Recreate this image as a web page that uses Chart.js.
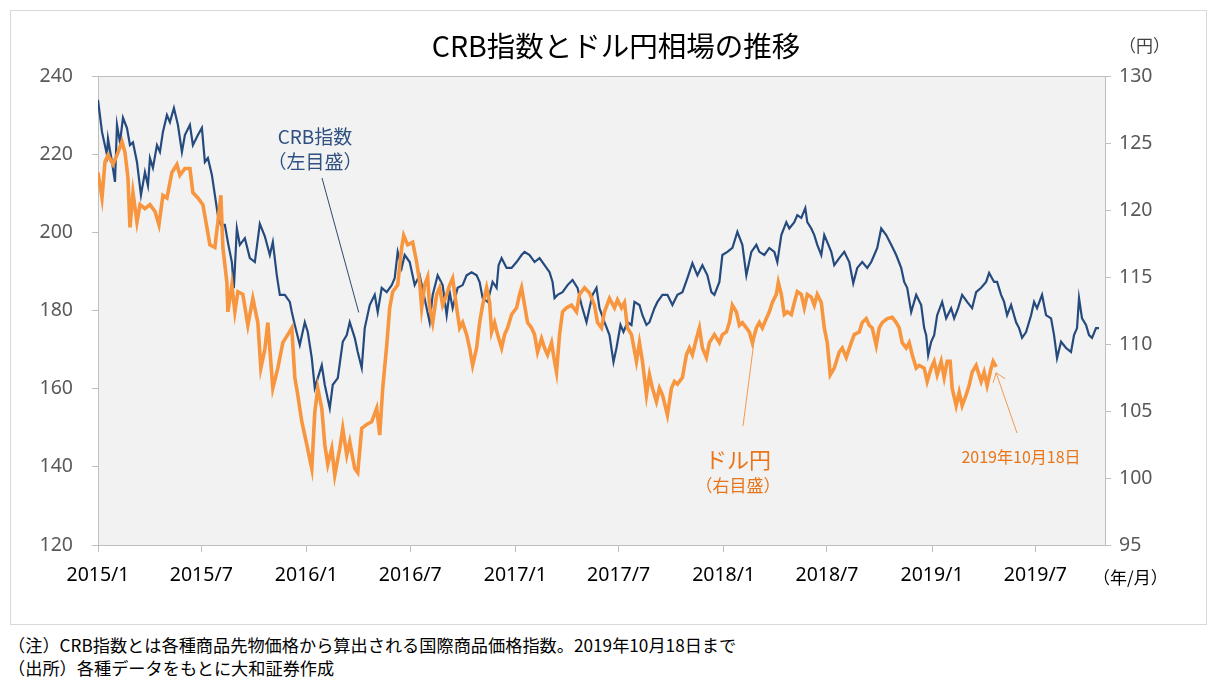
<!DOCTYPE html>
<html lang="ja">
<head>
<meta charset="utf-8">
<title>CRB指数とドル円相場の推移</title>
<script src="https://cdn.jsdelivr.net/npm/chart.js@4"></script>
<style>
  html, body { margin: 0; padding: 0; background: #fff; }
  body { width: 1217px; height: 686px; position: relative; overflow: hidden;
         font-family: "Noto Sans CJK JP", "Noto Sans", sans-serif; }
  #frame { position: absolute; left: 10px; top: 10px; width: 1197px; height: 615px;
           box-sizing: border-box; border: 1px solid #d9d9d9; }
  #wrap { position: absolute; left: 0; top: 0; width: 1217px; height: 625px; }
  #title { position: absolute; left: 0; width: 1232px; top: 26px; text-align: center;
           font-size: 28.5px; color: #000; line-height: 38px; }
  .unit { position: absolute; font-size: 17px; line-height: 22px; color: #404040; }
  .note { position: absolute; left: 8px; font-size: 17.2px; line-height: 22px; color: #000; }
</style>
</head>
<body>
<div id="wrap"><canvas id="chart"></canvas></div>
<div id="frame"></div>
<div id="title">CRB指数とドル円相場の推移</div>
<div class="unit" style="left:1119px; top:34px;">（円）</div>
<div class="unit" style="left:1093px; top:566px; color:#000;">（年/月）</div>
<div class="note" style="top:634px;">（注）CRB指数とは各種商品先物価格から算出される国際商品価格指数。2019年10月18日まで</div>
<div class="note" style="top:657px;">（出所）各種データをもとに大和証券作成</div>
<script>
// 週番号(2015/1/1起点) と値
const crbSeries = [[0,233.9],[1,225.7],[2.25,219.8],[2.5,224],[3.5,218],[4.25,212.9],[4.75,227.5],[5.5,223],[6.25,229.3],[7.25,226.7],[8,222.3],[8.75,223],[9.75,218],[10.75,209.5],[11.75,215.4],[12.5,212],[13,219],[13.75,216.5],[14.75,222.3],[15.5,220.6],[16.25,225.7],[17.25,230],[18,228.2],[19,231.8],[20,227.5],[21,220.6],[21.75,224.9],[23,227.5],[23.75,222.3],[25,224.9],[26,226.7],[26.75,218],[27.5,219],[28.5,214.7],[29.25,209.5],[30,204.4],[30.75,201.9],[31.75,201.9],[32.5,197.5],[33.5,192.4],[34,185.7],[34.75,201],[35.5,196.8],[36.75,198.5],[38,193.4],[39.25,192.4],[40.5,202.2],[41.75,199],[43,194.2],[43.75,197.5],[44.75,189],[45.5,184],[46.75,184],[48,182.2],[48.5,179.6],[49.25,176.3],[50.5,171.2],[51.75,177],[52.5,174.5],[53.5,167.8],[54.25,160.2],[55,162.7],[56,166],[56.75,161],[58,155],[58.75,161],[60,162.7],[61.25,172],[62.25,173.7],[63,177],[64.25,173],[65,169.4],[66,165.3],[66.75,175.5],[68,181.4],[69.25,184],[70,179.6],[71,185.8],[72.25,184.7],[73.5,186.5],[74.25,188.3],[75,195],[76,190.9],[76.75,194.2],[78,192.4],[79.25,186.5],[80.5,189],[82.25,180.6],[83,177],[83.75,184],[85,189],[86.25,186.5],[87.25,178.8],[88,184.7],[88.75,180.6],[90,185.8],[91.25,186.5],[92.25,189],[93.5,189.8],[94.75,189],[95.5,187.3],[96.25,183.2],[97.5,182.2],[98.75,187.3],[99.75,185.8],[100.25,191.6],[101,193.4],[102.25,190.9],[103.5,190.9],[104.75,192.4],[106,194.2],[106.75,195],[108,194.2],[109.25,192.4],[110.5,193.4],[111.75,191.6],[113,189.8],[113.75,187.3],[114.25,183.2],[115,184],[116.25,184.7],[117.5,186.5],[118.75,187.8],[120,185.8],[121,181.4],[122.25,177],[123,180.6],[123.75,184],[124.75,185.8],[125.5,180.6],[126.75,177],[128,173.7],[129,166.8],[129.75,170.4],[130.75,176.3],[131.5,174.5],[132.5,177],[133.5,176.3],[134.25,182.2],[135.5,181.4],[136.25,178.8],[137.25,176.3],[138,177],[139.25,180.6],[140,182.2],[141.25,184],[142.5,184],[143.75,181.4],[145,184],[146.25,184.7],[147.5,188.3],[148.75,192.1],[150,189],[151.25,191.6],[152.5,189],[153.5,184.7],[154.25,184],[155.5,187.3],[156.25,194.2],[157.5,195],[158.75,196],[160,200.1],[161.25,196.8],[162.25,189],[163.5,195],[164.75,196.8],[165.5,195],[166.75,194.2],[168,196],[169.25,195],[170,192.4],[171,199.3],[172.25,202.6],[173,201],[174.25,202.6],[175,204.4],[176,203.7],[177,206.2],[177.5,202.6],[178.5,201],[179.25,199.3],[180,196.8],[181,194.2],[181.75,199.3],[182.5,197.5],[183.5,195],[184.25,191.6],[185.5,193.4],[186.75,195],[188,192.4],[189,187],[190,190.9],[191.25,192.4],[192.5,190.9],[193.5,192.4],[194.25,194.2],[195,196],[196,201],[197.25,199.3],[198.5,196.8],[199.75,194.2],[201,190.9],[201.75,187.3],[202.5,185.8],[203.5,179.6],[204.75,184],[206,181.4],[206.75,175.5],[207.25,173.7],[207.75,168.6],[208.5,172],[209.25,173.7],[210,178.8],[211.25,182.2],[212.25,178],[213.5,180.6],[214.25,178],[215.25,180.6],[216.25,184],[217.5,182.2],[218.75,180.6],[219.75,184.7],[221,185.8],[222.25,187.3],[223,189.6],[224.25,187.3],[225,187.3],[226,184],[226.75,182.2],[227.5,178.8],[228.5,181.4],[229.75,177],[230.5,175.5],[231.25,173],[232.25,174.5],[233.5,178.8],[234.25,182.2],[235,180.6],[236.25,184],[237.25,178.8],[238.5,178],[239.25,173.7],[240,167.8],[241,172],[242.25,170.4],[243.5,169.4],[244.25,173.7],[245,175.5],[245.5,183.2],[246.25,178],[247.25,176.3],[248,173.7],[248.75,173],[249.75,175.5],[250.5,175.5]];

const usdjpySeries = [[0,122.8],[1,120.9],[1.75,123.6],[2.5,124.1],[3.75,123.4],[4.75,124.1],[6,125.1],[6.75,124.3],[7.5,122.4],[8,118.7],[8.75,121.3],[9.75,119.1],[10.5,120.4],[11.75,120.1],[13,120.4],[14.25,119.9],[15.25,118.9],[16.25,121.1],[17.25,120.9],[18.5,122.8],[19.75,123.4],[20.5,122.6],[21.75,123.1],[23,123.1],[23.75,121.3],[25,120.9],[26.25,120.4],[27.25,118.7],[28,117.4],[29.25,117.2],[30,119.1],[30.75,121.1],[31.25,117.2],[32.25,114.6],[32.5,112.4],[33.5,114.4],[34.25,112.4],[35,113.9],[36.25,113.7],[37.5,111.4],[38.75,113.4],[40,111.6],[40.75,108.2],[41.75,109.6],[42.5,111.6],[43.75,106.7],[45,108.2],[46.25,110.1],[47.5,110.7],[48.5,111.2],[49.25,107.5],[50,106.2],[51,104.2],[52.25,102.5],[53.5,100.7],[54.25,104.9],[55,106.7],[56,105.2],[56.75,102.5],[57.5,101],[58.5,102.2],[59.25,100.2],[60.5,102.2],[61.25,103.7],[62.25,101.7],[63,102.7],[64.25,100.7],[65,100.4],[66,103.7],[67.25,104],[68.5,104.2],[69.75,105.2],[70.5,103.2],[71.25,106.7],[72.25,109.9],[73,112.7],[73.75,113.9],[75,114.4],[76,117.2],[76.5,118.1],[77.5,117.4],[78.75,117.6],[79.75,116.1],[80.5,114.6],[81,112.7],[81.75,114.4],[82.5,115],[83,112.7],[83.75,111.6],[84.75,113.7],[85.5,114.2],[86.25,112.9],[87.25,113.7],[88,114.4],[88.75,114.9],[89.75,112.7],[90.5,111.2],[91.25,111.6],[92.25,110.7],[93,109.7],[93.75,108.4],[94.75,109.7],[95.5,111.6],[96.25,112.9],[97.25,114.2],[98,113.1],[98.5,110.9],[99.25,111.6],[100,110.7],[101,109.7],[101.75,110.7],[102.5,111.2],[103.5,112.2],[104.75,112.7],[105.5,113.7],[106,114.2],[106.75,112.9],[107.5,111.6],[108.5,111.2],[109.25,110.7],[110,109.4],[111,110.4],[111.75,109.7],[112.5,109.2],[113.5,110.1],[114.25,108.7],[114.75,107.9],[115.5,110.7],[116.25,112.4],[117.25,112.7],[118.5,112.9],[119.75,112.4],[120.5,113.7],[121.75,114.2],[123,113.8],[124.25,112.9],[125,111.6],[126,111.2],[126.75,112.4],[128,113.4],[129.25,112.7],[130,113.3],[131,112.7],[131.75,113.1],[132.5,111.2],[133.5,110.7],[134.75,108.7],[135.5,110.1],[136.25,108.7],[137.25,106.2],[138,107.7],[138.75,106.7],[139.75,105.7],[140.5,106.7],[141.25,106.2],[142.5,104.7],[143.5,106.7],[144.25,107.2],[145,107],[146.25,107.5],[147.25,109.2],[148,109.7],[148.75,109.2],[149.75,110.4],[150.5,111.2],[151.25,109.7],[152.25,109],[153,110.1],[154.25,110.7],[155.5,110.1],[156.25,110.7],[157.25,110.9],[158,111.6],[158.75,112.9],[159.75,112.4],[160.5,111.4],[161.25,111.6],[162.25,111.2],[163,110.9],[163.75,110.1],[164.75,111.2],[165.5,111.6],[166.25,111.2],[167.25,111.9],[168,112.4],[168.75,113.1],[169.75,113.7],[170.25,114.6],[171,113.7],[171.75,112.2],[172.5,112.4],[173.5,112.2],[174.25,113.1],[175,113.9],[176,113.7],[176.75,112.7],[177.5,113.7],[178.5,113.5],[179.25,112.9],[180,113.7],[181,113.1],[181.75,111.2],[182.5,110.1],[183.25,107.7],[184.25,108.2],[185.5,109.4],[186.25,109.7],[187.25,109],[188.5,110.1],[189.25,110.7],[190.5,110.9],[191.25,111.6],[192.25,111.9],[193,111.4],[193.75,111.2],[194.75,109.9],[195.5,111.2],[196.25,111.6],[197.5,111.9],[198.75,112],[199.75,111.6],[200.5,111.2],[201.25,110.1],[202.25,109.7],[203,110.1],[203.75,109.2],[204.75,108.2],[205.5,108.4],[206.75,108.2],[207.5,107.2],[208.5,108.2],[209.25,108.7],[210,107.7],[211,108.7],[211.75,107.5],[212.5,108.7],[213.25,108.7],[213.75,106.7],[214.75,105.4],[215.5,106.4],[216.25,105.4],[217.25,106.2],[218,106.9],[218.75,107.9],[219.75,108.4],[221,107.2],[221.75,107.9],[222.5,106.9],[223.5,108.2],[224,108.7],[224.75,108.3]];

const xTickLabels = ["2015/1","2015/7","2016/1","2016/7","2017/1","2017/7","2018/1","2018/7","2019/1","2019/7"];
const leftTicks = [120, 140, 160, 180, 200, 220, 240];
const rightTicks = [95, 100, 105, 110, 115, 120, 125, 130];

const DAY0 = Date.UTC(2015, 0, 1);
function labelToDay(s) {
  const [y, m] = s.split('/').map(Number);
  return (Date.UTC(y, m - 1, 1) - DAY0) / 86400000;
}
const xTickDays = xTickLabels.map(labelToDay);
const toPoints = arr => arr.map(([w, v]) => ({ x: w * 7, y: v }));

const AXIS = '#bfbfbf';
const NUM_FONT = { family: '"Noto Sans", sans-serif', size: 19.5 };

// 描画領域の背景と上端線
const plotBg = {
  id: 'plotBg',
  beforeDraw(chart) {
    const { ctx, chartArea: a } = chart;
    ctx.save();
    ctx.fillStyle = '#f2f2f2';
    ctx.fillRect(a.left, a.top, a.right - a.left, a.bottom - a.top);
    ctx.strokeStyle = AXIS;
    ctx.lineWidth = 1;
    ctx.beginPath();
    ctx.moveTo(a.left - 6, Math.round(a.top) + 0.5);
    ctx.lineTo(a.right + 6, Math.round(a.top) + 0.5);
    ctx.stroke();
    ctx.restore();
  }
};

// 注記（系列名と引き出し線）
const notes = {
  id: 'notes',
  afterDatasetsDraw(chart) {
    const { ctx } = chart;
    const x = chart.scales.x, yl = chart.scales.yL, yr = chart.scales.yR;
    ctx.save();
    ctx.textAlign = 'center';
    ctx.textBaseline = 'middle';
    const cjk = '"Noto Sans CJK JP", sans-serif';

    ctx.fillStyle = '#2f5081';
    ctx.font = '19px ' + cjk;
    ctx.fillText('CRB指数', 315, 137);
    ctx.fillText('（左目盛）', 315, 162);
    ctx.strokeStyle = '#2f4a70';
    ctx.lineWidth = 1;
    ctx.beginPath();
    ctx.moveTo(322, 178);
    ctx.lineTo(x.getPixelForValue(65.25 * 7), yl.getPixelForValue(179.5));
    ctx.stroke();

    ctx.fillStyle = '#e8751a';
    ctx.font = '22px ' + cjk;
    ctx.fillText('ドル円', 738, 460);
    ctx.font = '17px ' + cjk;
    ctx.fillText('（右目盛）', 738, 486);
    ctx.strokeStyle = '#f29a50';
    ctx.beginPath();
    ctx.moveTo(743, 426);
    ctx.lineTo(x.getPixelForValue(164.25 * 7), yr.getPixelForValue(110.4));
    ctx.stroke();

    ctx.font = '16px ' + cjk;
    ctx.fillText('2019年10月18日', 1021, 457);
    const tx = x.getPixelForValue(224.75 * 7), ty = yr.getPixelForValue(108.3) + 6;
    ctx.beginPath();
    ctx.moveTo(1017, 433);
    ctx.lineTo(tx, ty);
    ctx.moveTo(tx - 3, ty + 10);
    ctx.lineTo(tx, ty);
    ctx.lineTo(tx + 9, ty + 6);
    ctx.stroke();
    ctx.restore();
  }
};

new Chart(document.getElementById('chart'), {
  type: 'line',
  data: {
    datasets: [
      { label: 'CRB指数', data: toPoints(crbSeries), yAxisID: 'yL',
        borderColor: '#244a7e', borderWidth: 2.2, pointRadius: 0, tension: 0, order: 1 },
      { label: 'ドル円', data: toPoints(usdjpySeries), yAxisID: 'yR',
        borderColor: '#f7963f', borderWidth: 3.6, pointRadius: 0, tension: 0, order: 0 }
    ]
  },
  options: {
    responsive: true,
    maintainAspectRatio: false,
    animation: false,
    layout: { padding: { top: 76, left: 0, right: 0, bottom: 0 } },
    plugins: { legend: { display: false }, tooltip: { enabled: false }, title: { display: false } },
    scales: {
      x: {
        type: 'linear', min: 0, max: 1764,
        afterBuildTicks: s => { s.ticks = xTickDays.map(v => ({ value: v })); },
        afterFit: s => { s.height = 80; },
        ticks: { callback: (v, i) => xTickLabels[i], color: '#000', font: NUM_FONT,
                 padding: 12, maxRotation: 0, autoSkip: false },
        grid: { drawOnChartArea: false, color: AXIS, tickLength: 7 },
        border: { color: AXIS }
      },
      yL: {
        type: 'linear', position: 'left', min: 120, max: 240,
        afterBuildTicks: s => { s.ticks = leftTicks.map(v => ({ value: v })); },
        afterFit: s => { s.width = 98; },
        ticks: { color: '#595959', font: NUM_FONT, padding: 19 },
        grid: { drawOnChartArea: false, color: AXIS, tickLength: 6 },
        border: { color: AXIS }
      },
      yR: {
        type: 'linear', position: 'right', min: 95, max: 130,
        afterBuildTicks: s => { s.ticks = rightTicks.map(v => ({ value: v })); },
        afterFit: s => { s.width = 112; },
        ticks: { color: '#595959', font: NUM_FONT, padding: 8 },
        grid: { drawOnChartArea: false, color: AXIS, tickLength: 6 },
        border: { color: AXIS }
      }
    }
  },
  plugins: [plotBg, notes]
});
</script>
</body>
</html>
